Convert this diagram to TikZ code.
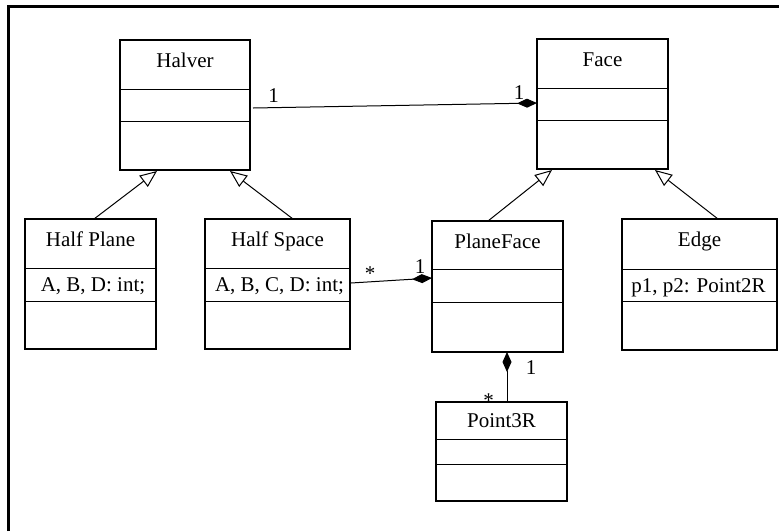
\documentclass[tikz,border=0pt]{standalone}
\usepackage{fontspec}
\setmainfont{Liberation Serif}
\usetikzlibrary{arrows.meta,calc}
\begin{document}
\begin{tikzpicture}[x=1pt,y=-1pt,
  cls/.style={draw,line width=1.1pt,inner sep=0pt,outer sep=0pt},
  div/.style={line width=0.9pt},
  txt/.style={anchor=base,inner sep=0pt,font=\fontsize{21}{25}\selectfont},
  conn/.style={line width=1pt},
  gen/.style={conn,-{Triangle[open,length=17pt,width=14pt,fill=white]}},
  compend/.style={conn,-{Diamond[length=20pt,width=9pt]}},
  compstart/.style={conn,{Diamond[length=20pt,width=9pt]}-}]
\useasboundingbox (0,0) rectangle (779,531);
% frame (only top and left visible)
\draw[line width=2.6pt] (8.3,531) -- (8.3,6.2) -- (779,6.2);

% classes
\node[cls,minimum width=130pt,minimum height=130pt] (halver) at (185,105) {};
\draw[div] (120,89) -- (250,89);
\draw[div] (120,121) -- (250,121);
\node[txt] (halvert) at (185,67.3) {Halver};

\node[cls,minimum width=131pt,minimum height=130pt] (face) at (602.5,104) {};
\draw[div] (537,88) -- (668,88);
\draw[div] (537,120) -- (668,120);
\node[txt] (facet) at (602.5,66) {Face};

\node[cls,minimum width=131pt,minimum height=130pt] (halfplane) at (90.5,284) {};
\draw[div] (25,268) -- (156,268);
\draw[div] (25,301) -- (156,301);
\node[txt] (halfplanet) at (90.5,246) {Half Plane};
\node[txt] (halfplanea) at (93,291.7) {A, B, D: int;};

\node[cls,minimum width=145pt,minimum height=130pt] (halfspace) at (277.5,284) {};
\draw[div] (205,268) -- (350,268);
\draw[div] (205,301) -- (350,301);
\node[txt] (halfspacet) at (277.5,246) {Half Space};
\node[txt] (halfspacea) at (279.5,291.7) {A, B, C, D: int;};

\node[cls,minimum width=131pt,minimum height=131pt] (planeface) at (497.5,286.5) {};
\draw[div] (432,269) -- (563,269);
\draw[div] (432,302) -- (563,302);
\node[txt] (planefacet) at (497.5,248.3) {PlaneFace};

\node[cls,minimum width=155pt,minimum height=131pt] (edge) at (699.5,284.5) {};
\draw[div] (622,269) -- (777,269);
\draw[div] (622,301) -- (777,301);
\node[txt] (edget) at (699.5,246.7) {Edge};
\node[txt] (edgea) at (698.5,292) {p1, p2: Point2R};

\node[cls,minimum width=131pt,minimum height=99pt] (point) at (501.5,451.5) {};
\draw[div] (436,439) -- (567,439);
\draw[div] (436,464) -- (567,464);
\node[txt] (pointt) at (501.5,427.7) {Point3R};

% connectors
\draw[compend] ($(halver.east)+(3,3)$) -- ($(face.west)+(0,-1)$);
\node[txt] (m1) at (273.5,102) {1};
\node[txt] (m2) at (519,99.5) {1};

\draw[gen] ($(halfplane.north west)+(69,0)$) -- ($(halver.south west)+(37,1)$);
\draw[gen] ($(halfspace.north west)+(88,0)$) -- ($(halver.south west)+(110,1)$);
\draw[gen] ($(planeface.north west)+(56,0)$) -- ($(face.south west)+(15,1)$);
\draw[gen] ($(edge.north west)+(96,0)$) -- ($(face.south west)+(118,1)$);

\draw[compend] ($(halfspace.east)+(1,-1)$) -- ($(planeface.west)+(0,-8.5)$);
\node[txt] (m3) at (370,280.6) {*};
\node[txt] (m4) at (420,273) {1};

\draw[compstart] ($(planeface.south)+(9.5,0)$) -- ($(point.north)+(5.5,0)$);
\node[txt] (m5) at (531,374.5) {1};
\node[txt] (m6) at (488.5,407.6) {*};
\end{tikzpicture}
\end{document}
